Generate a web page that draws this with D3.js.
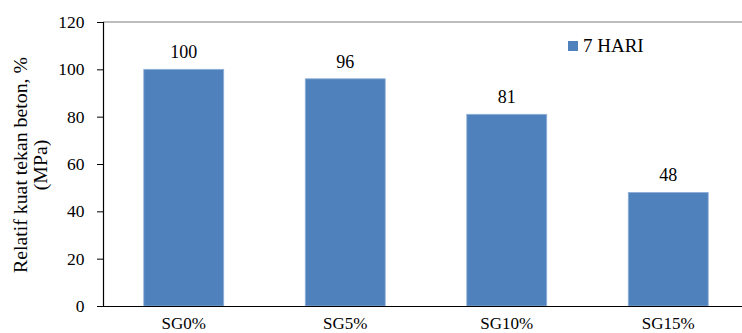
<!DOCTYPE html>
<html>
<head>
<meta charset="utf-8">
<script src="https://cdn.jsdelivr.net/npm/d3@7"></script>
<style>
  html, body { margin: 0; padding: 0; background: #fff; }
  svg { display: block; }
</style>
</head>
<body>
<svg id="chart" width="742" height="333"></svg>
<script>
// Relative compressive strength per slag replacement level (7 days)
const categories = ["SG0%", "SG5%", "SG10%", "SG15%"];
const values7Hari = [100, 96, 81, 48];
const yTicks = [0, 20, 40, 60, 80, 100, 120];
const seriesName = "7 HARI";
const yTitleLines = ["Relatif kuat tekan beton, %", "(MPa)"];

const FONT = "'Liberation Serif', 'Times New Roman', Tinos, serif";

const svg = d3.select("#chart");
const W = 742, H = 333;
const plot = { left: 103, top: 22, bottom: 306, right: 749 };
const barColor = "#4F81BD";

const x = d3.scaleBand()
  .domain(categories)
  .range([plot.left, plot.right])
  .paddingInner(0.505)
  .paddingOuter(0.2525);

const y = d3.scaleLinear()
  .domain([0, 120])
  .range([plot.bottom, plot.top]);

function styleText(size) {
  return sel => sel.style("font-family", FONT).style("font-size", size + "px").style("fill", "#000");
}

// Top frame line
svg.append("line")
  .attr("x1", plot.left).attr("x2", W)
  .attr("y1", y(120)).attr("y2", y(120))
  .attr("stroke", "#7f7f7f").attr("stroke-width", 1.2);

// Bars
svg.append("g").selectAll("rect")
  .data(categories)
  .join("rect")
  .attr("x", d => x(d))
  .attr("width", x.bandwidth())
  .attr("y", (d, i) => y(values7Hari[i]))
  .attr("height", (d, i) => y(0) - y(values7Hari[i]))
  .attr("fill", barColor)
  .attr("stroke", "#8fb0d8")
  .attr("stroke-width", 0.8);

// Value labels
svg.append("g").selectAll("text")
  .data(categories)
  .join("text")
  .attr("x", d => x(d) + x.bandwidth() / 2)
  .attr("y", (d, i) => y(values7Hari[i]) - 11)
  .attr("text-anchor", "middle")
  .text((d, i) => values7Hari[i])
  .call(styleText(18));

// Y axis
const yAxis = d3.axisLeft(y).tickValues(yTicks).tickSize(6).tickPadding(12.5);
const gy = svg.append("g").attr("transform", `translate(${plot.left},0)`).call(yAxis);
gy.select(".domain").attr("stroke", "#000").attr("stroke-width", 1.2);
gy.selectAll(".tick line").attr("stroke", "#000").attr("stroke-width", 1);
gy.selectAll(".tick text").call(styleText(17.5));

// X axis
const xAxis = d3.axisBottom(x).tickSize(0).tickPadding(11);
const gx = svg.append("g").attr("transform", `translate(0,${plot.bottom})`).call(xAxis);
gx.select(".domain").attr("stroke", "#000").attr("stroke-width", 1.2);
gx.selectAll(".tick text").call(styleText(17));

// Y axis title (two lines, rotated)
const yMid = 165;
const title = svg.append("text")
  .attr("transform", `translate(26.5,${yMid}) rotate(-90)`)
  .attr("text-anchor", "middle")
  .call(styleText(19.8));
title.selectAll("tspan")
  .data(yTitleLines)
  .join("tspan")
  .attr("x", 0)
  .attr("dy", (d, i) => i === 0 ? 0 : 20.5)
  .text(d => d);

// Legend
const legend = svg.append("g").attr("transform", "translate(568,41)");
legend.append("rect")
  .attr("width", 10).attr("height", 10)
  .attr("fill", barColor);
legend.append("text")
  .attr("x", 15).attr("y", 11)
  .text(seriesName)
  .call(styleText(19));
</script>
</body>
</html>
